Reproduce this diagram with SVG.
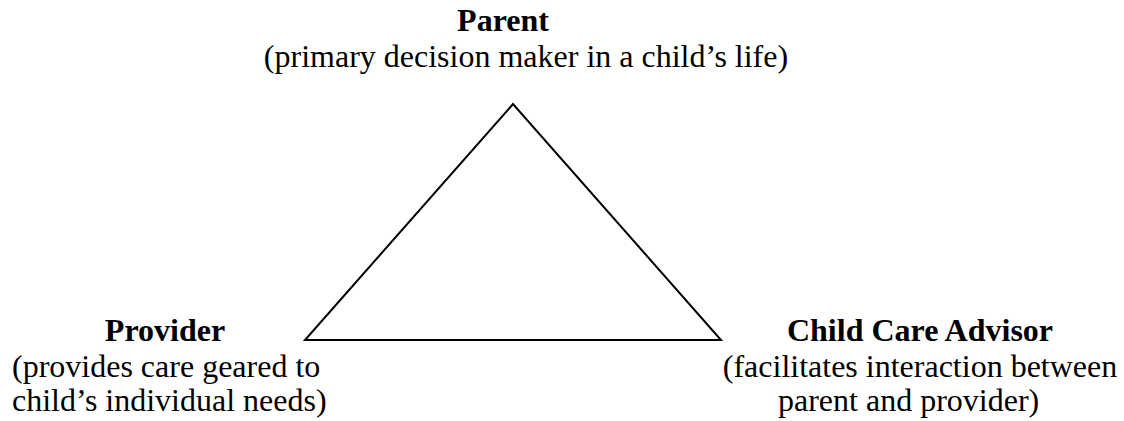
<svg xmlns="http://www.w3.org/2000/svg" width="1124" height="421" viewBox="0 0 1124 421">
<style>
text { font-family: "Liberation Serif", "Times New Roman", serif; font-size: 32px; fill: #000; }
.b { font-weight: bold; }
.c { text-anchor: middle; }
.tri { fill: none; stroke: #000; stroke-width: 2; stroke-linejoin: miter; }
</style>
<rect width="1124" height="421" fill="#fff"/>
<g id="connectors">
  <polygon class="tri" points="513,104 305,340 721,340"/>
</g>
<g id="parent">
  <text class="b c" x="503" y="31">Parent</text>
  <text class="c" x="526" y="67">(primary decision maker in a child’s life)</text>
</g>
<g id="provider">
  <text class="b c" x="165" y="341">Provider</text>
  <text x="12" y="377">(provides care geared to</text>
  <text x="12" y="411">child’s individual needs)</text>
</g>
<g id="advisor">
  <text class="b c" x="920" y="341">Child Care Advisor</text>
  <text class="c" x="920" y="377">(facilitates interaction between</text>
  <text x="778" y="411">parent and provider)</text>
</g>
</svg>
